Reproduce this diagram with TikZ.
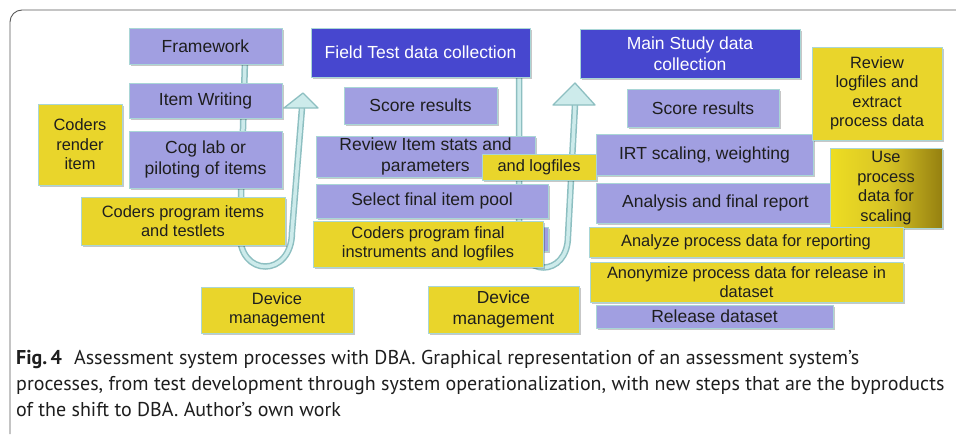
\documentclass[tikz,border=0pt]{standalone}
\usepackage{fontspec}
\setmainfont{Liberation Sans}
\newfontfamily\capfont{PT Sans}
\usetikzlibrary{shadows}
\definecolor{lav}{HTML}{A19FE1}
\definecolor{dblue}{HTML}{4747CF}
\definecolor{yel}{HTML}{E9D52B}
\definecolor{edgec}{HTML}{A9D6D6}
\definecolor{arrO}{HTML}{8DBFC1}
\definecolor{arrI}{HTML}{CDEBEB}
\definecolor{txt}{HTML}{1E1E1E}
\definecolor{olive}{HTML}{958010}
\tikzset{
  base/.style={draw=edgec, line width=0.7pt, inner sep=0pt, align=center, text=txt,
    drop shadow={shadow xshift=1.5pt, shadow yshift=-1.5pt, opacity=0.22, fill=black}},
  lavbox/.style={base, fill=lav, font=\fontsize{17.5}{20.5}\selectfont},
  bluebox/.style={base, fill=dblue, text=white, font=\fontsize{17.5}{20.5}\selectfont},
  yelbox/.style={base, fill=yel, font=\fontsize{16.4}{19.5}\selectfont},
  sz/.style 2 args={minimum width=#1, minimum height=#2},
  shaftO/.style={draw=arrO, line width=6.5pt},
  shaftI/.style={draw=arrI, line width=3.5pt},
  ahead/.style={draw=arrO, fill=arrI, line width=1.3pt, line join=round},
  capline/.style={anchor=base west, inner sep=0pt, font=\capfont\fontsize{20}{22}\selectfont, text=txt}
}
\begin{document}
\begin{tikzpicture}[x=1pt,y=-1pt]
\useasboundingbox (0,0) rectangle (956,434);
\fill[white] (0,0) rectangle (956,434);
% frame
\draw[draw=black!65, line width=0.9pt] (10,434) -- (10,22) arc[start angle=180, end angle=270, radius=12] -- (956,10);

% arrows (behind boxes)
\coordinate (a1s) at (245,60);
\coordinate (a1b) at (240,232);
\coordinate (a1c) at (292,232);
\coordinate (a1t) at (302,108);
\draw[shaftO] (a1s) -- (a1b) .. controls (238,278) and (292,278) .. (a1c) -- (a1t);
\draw[shaftI] (a1s) -- (a1b) .. controls (238,278) and (292,278) .. (a1c) -- (a1t);
\coordinate (a2s) at (519,74);
\coordinate (a2b) at (519,236);
\coordinate (a2c) at (568,236);
\coordinate (a2t) at (575,105);
\draw[shaftO] (a2s) -- (a2b) .. controls (519,278) and (568,278) .. (a2c) -- (a2t);
\draw[shaftI] (a2s) -- (a2b) .. controls (519,278) and (568,278) .. (a2c) -- (a2t);
\coordinate (h1) at (303,93);
\coordinate (h2) at (575,83);
\draw[ahead] (h1) -- (318,108) -- (284,108) -- cycle;
\draw[ahead] (h2) -- (595,105) -- (553,105) -- cycle;

% left column
\node[lavbox, sz={153}{36}] (fw) at (205.5,46) {Framework};
\node[lavbox, sz={153}{35}] (iw) at (205.5,100.5) {Item Writing};
\node[lavbox, sz={153}{57}] (cog) at (205.5,159.5) {Cog lab or\\piloting of items};
\node[yelbox, sz={84}{81}] (cri) at (80,144.5) {Coders\\render\\item};
\node[yelbox, sz={204}{48}] (cpi) at (183,221) {Coders program items\\and testlets};
\node[yelbox, sz={152}{46}] (dm1) at (277,310) {Device\\management};

% middle column
\node[bluebox, sz={219}{49}] (ft) at (420.5,52.5) {Field Test data collection};
\node[lavbox, sz={153}{37}] (sr1) at (420.5,105.5) {Score results};
\node[lavbox, sz={219}{41}] (ris) at (425.5,156.5) {Review Item stats and\\parameters};
\node[yelbox, sz={114}{26}] (alf) at (539,167) {and logfiles};
\node[lavbox, sz={232}{34}] (sfp) at (432,201) {Select final item pool};
\node[lavbox, sz={232}{24}] (hid) at (432,239) {};
\node[yelbox, sz={230}{46}] (cpf) at (428,244) {Coders program final\\instruments and logfiles};
\node[yelbox, sz={151}{47}, font=\fontsize{17.4}{20.5}\selectfont] (dm2) at (503.5,309.5) {Device\\management};

% right column
\node[bluebox, sz={220}{49}] (ms) at (690,53.5) {Main Study data\\collection};
\node[lavbox, sz={152}{38}] (sr2) at (703,108) {Score results};
\node[lavbox, sz={217}{41}] (irt) at (704.5,154.5) {IRT scaling, weighting};
\node[lavbox, sz={239}{40}] (afr) at (715.5,203) {Analysis and final report};
\node[yelbox, sz={130}{93}] (rlf) at (877,93.5) {Review\\logfiles and\\extract\\process data};
\node[base, sz={112}{80}, left color=yel!80!yellow, right color=olive, middle color=yel!80!olive, font=\fontsize{16.4}{19.5}\selectfont] (upd) at (886,188) {Use\\process\\data for\\scaling};
\node[yelbox, sz={314}{30}] (apd) at (746,242) {Analyze process data for reporting};
\node[yelbox, sz={313}{40}] (anon) at (746.5,282) {Anonymize process data for release in\\dataset};
\node[lavbox, sz={237}{23}] (rel) at (714.5,316.5) {Release dataset};

% caption
\node[capline] (c1) at (16,364) {{\bfseries Fig.\,4}\hspace{0.6em}Assessment system processes with DBA. Graphical representation of an assessment system’s};
\node[capline] (c2) at (16,390) {processes, from test development through system operationalization, with new steps that are the byproducts};
\node[capline] (c3) at (16,416) {of the shift to DBA. Author’s own work};
\end{tikzpicture}
\end{document}
